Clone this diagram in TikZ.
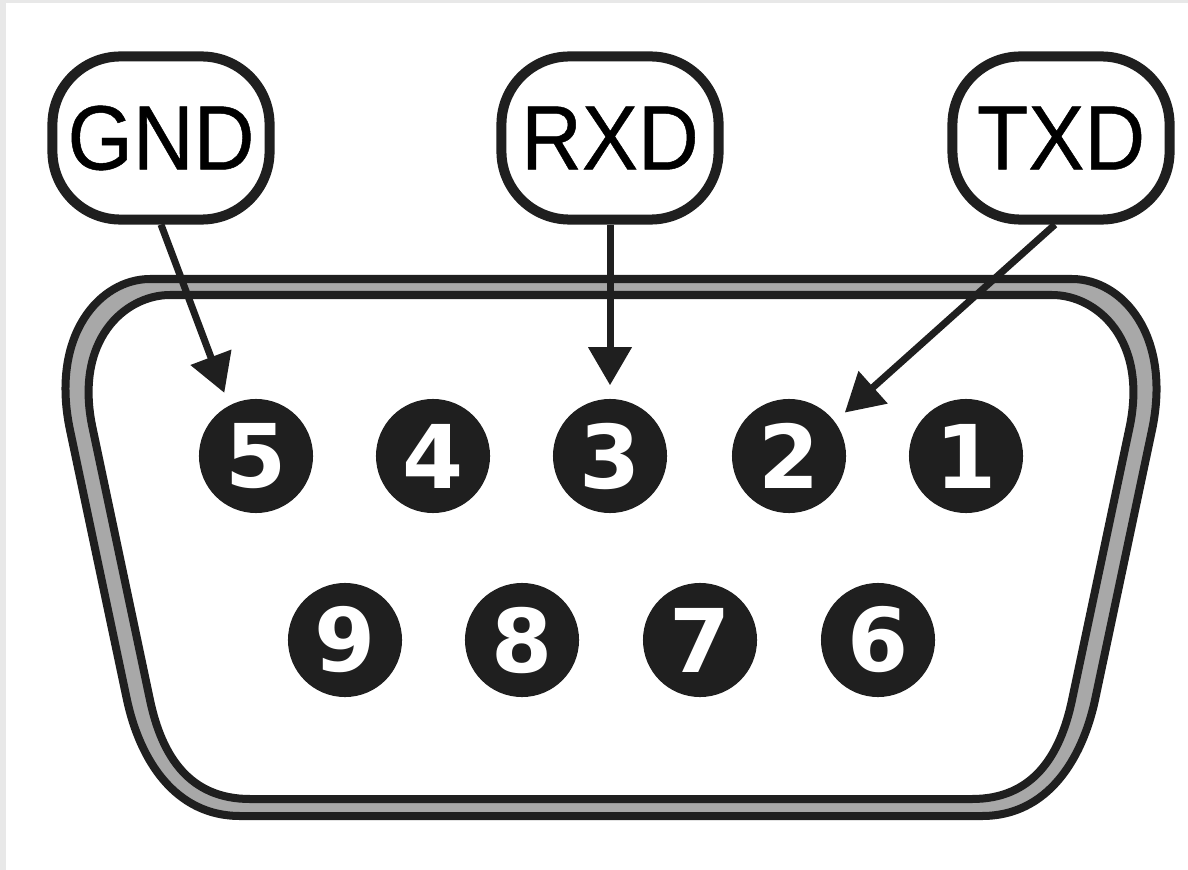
\documentclass[tikz,border=0pt]{standalone}
\usepackage{fontspec}
\setmainfont[FakeBold=0.5, FakeStretch=0.92]{Liberation Sans}
\newfontfamily\pinfont{DejaVu Sans}
\usetikzlibrary{arrows.meta}
\definecolor{inkdark}{gray}{0.12}
\definecolor{bandgray}{gray}{0.66}
\definecolor{edgegray}{gray}{0.91}
\tikzset{
	signal/.style={draw=inkdark, fill=white, line width=0.1cm, rounded corners=0.68cm, minimum width=2.17cm, minimum height=1.63cm, inner sep=0pt, font=\fontsize{26}{26}\selectfont},
	pin/.style={circle, fill=inkdark, text=white, minimum size=1.14cm, inner sep=0pt, font=\pinfont\bfseries\fontsize{25}{25}\selectfont},
	wire/.style={-{Triangle[length=0.38cm, width=0.42cm]}, draw=inkdark, fill=inkdark, line width=0.07cm, shorten >=0.13cm}
}
\begin{document}
\begin{tikzpicture} [x=0.01cm, y=-0.01cm]
		%\draw [help lines] (0,0) grid (1188,870);
		\fill[edgegray] (0,0) rectangle (1188,870);
		\fill[white] (6,3) rectangle (1188,870);
		% shell
		\draw[inkdark, line width=0.08cm, fill=bandgray] (150,279) -- (1072,279) .. controls (1122,279) and (1172,335) .. (1152,430) -- (1095,700) .. controls (1082,760) and (1047,816) .. (982,816) -- (240,816) .. controls (175,816) and (140,760) .. (127,700) -- (70,430) .. controls (50,335) and (100,279) .. (150,279) -- cycle;
		\draw[inkdark, line width=0.08cm, fill=white] (170,295) -- (1052,295) .. controls (1097,295) and (1149,340) .. (1129,430) -- (1072,700) .. controls (1060,757) and (1032,799) .. (972,799) -- (250,799) .. controls (190,799) and (162,757) .. (150,700) -- (93,430) .. controls (73,340) and (125,295) .. (170,295) -- cycle;
		% pins
		\foreach \n/\x in {5/256, 4/433, 3/610, 2/789, 1/966}
			\node[pin] (pin\n) at (\x,456) {\n};
		\foreach \n/\x in {9/345, 8/522, 7/700, 6/878}
			\node[pin] (pin\n) at (\x,640) {\n};
		% labels
		\node[signal] (gnd) at (161,138) {GND};
		\node[signal] (rxd) at (610,138) {RXD};
		\node[signal] (txd) at (1061,138) {TXD};
		% arrows
		\draw[wire] (gnd.south) -- (pin5.118);
		\draw[wire] (rxd.south) -- (pin3.north);
		\draw[wire] (txd.-94) -- (pin2.37);
	\end{tikzpicture}
\end{document}
